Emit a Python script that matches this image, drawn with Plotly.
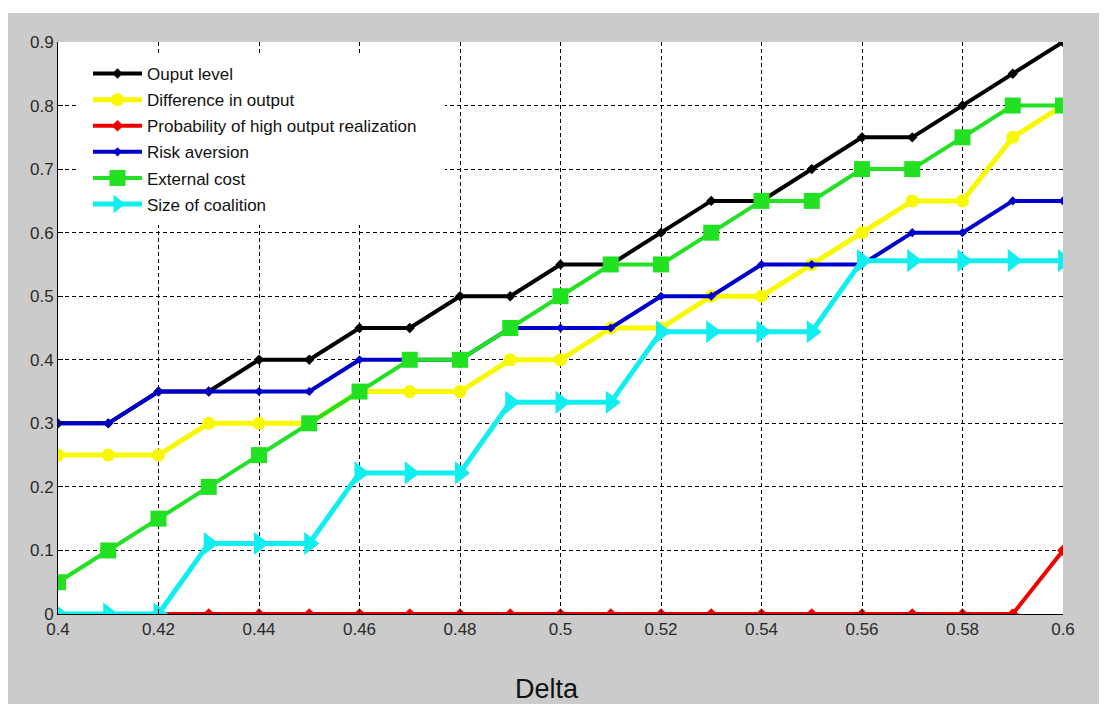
import plotly.graph_objects as go

delta = [0.40, 0.41, 0.42, 0.43, 0.44, 0.45, 0.46, 0.47, 0.48, 0.49, 0.50,
         0.51, 0.52, 0.53, 0.54, 0.55, 0.56, 0.57, 0.58, 0.59, 0.60]

output_level = [0.30, 0.30, 0.35, 0.35, 0.40, 0.40, 0.45, 0.45, 0.50, 0.50, 0.55,
                0.55, 0.60, 0.65, 0.65, 0.70, 0.75, 0.75, 0.80, 0.85, 0.90]
difference_in_output = [0.25, 0.25, 0.25, 0.30, 0.30, 0.30, 0.35, 0.35, 0.35, 0.40, 0.40,
                        0.45, 0.45, 0.50, 0.50, 0.55, 0.60, 0.65, 0.65, 0.75, 0.80]
prob_high_output = [0, 0, 0, 0, 0, 0, 0, 0, 0, 0, 0,
                    0, 0, 0, 0, 0, 0, 0, 0, 0, 0.10]
risk_aversion = [0.30, 0.30, 0.35, 0.35, 0.35, 0.35, 0.40, 0.40, 0.40, 0.45, 0.45,
                 0.45, 0.50, 0.50, 0.55, 0.55, 0.55, 0.60, 0.60, 0.65, 0.65]
external_cost = [0.05, 0.10, 0.15, 0.20, 0.25, 0.30, 0.35, 0.40, 0.40, 0.45, 0.50,
                 0.55, 0.55, 0.60, 0.65, 0.65, 0.70, 0.70, 0.75, 0.80, 0.80]
size_of_coalition = [0, 0, 0, 0.111, 0.111, 0.111, 0.222, 0.222, 0.222, 0.333, 0.333,
                     0.333, 0.444, 0.444, 0.444, 0.444, 0.556, 0.556, 0.556, 0.556, 0.556]

series_names = ["Ouput level", "Difference in output", "Probability of high output realization",
                "Risk aversion", "External cost", "Size of coalition"]
x_ticks = [0.40, 0.42, 0.44, 0.46, 0.48, 0.50, 0.52, 0.54, 0.56, 0.58, 0.60]
x_tick_labels = ["0.4", "0.42", "0.44", "0.46", "0.48", "0.5", "0.52", "0.54", "0.56", "0.58", "0.6"]
y_ticks = [0, 0.1, 0.2, 0.3, 0.4, 0.5, 0.6, 0.7, 0.8, 0.9]
y_tick_labels = ["0", "0.1", "0.2", "0.3", "0.4", "0.5", "0.6", "0.7", "0.8", "0.9"]

series = [output_level, difference_in_output, prob_high_output,
          risk_aversion, external_cost, size_of_coalition]
styles = [
    dict(color="#000000", symbol="diamond", size=8, width=4),
    dict(color="#f8f800", symbol="circle", size=13, width=5),
    dict(color="#ee0000", symbol="diamond", size=9, width=4),
    dict(color="#0000cc", symbol="diamond", size=7, width=4),
    dict(color="#22e022", symbol="square", size=16, width=4),
    dict(color="#10eef0", symbol="triangle-right", size=20, width=5),
]

fig = go.Figure()
for i, (name, ys, st) in enumerate(zip(series_names, series, styles)):
    fig.add_trace(go.Scatter(
        x=delta, y=ys, name=name, mode="lines+markers",
        legendgroup="g%d" % i,
        line=dict(color=st["color"], width=st["width"]),
        marker=dict(color=st["color"], symbol=st["symbol"], size=st["size"], line=dict(width=0)),
    ))

# figure is placed at an 8px page offset by the browser's body margin
W, H = 1099, 696
L, R, T, B = 50, 44, 34, 90
pw, ph = W - L - R, H - T - B

def px_x(p):
    return (p - L) / pw

def px_y(p):
    return (H - B - p) / ph

fig.update_layout(
    width=W, height=H,
    margin=dict(l=L, r=R, t=T, b=B, autoexpand=False),
    paper_bgcolor="#cbcbcb",
    plot_bgcolor="#ffffff",
    font=dict(family="Liberation Sans, Arial, sans-serif", size=17, color="#2a2a2a"),
    showlegend=True,
    legend=dict(
        x=px_x(80), y=px_y(48), xanchor="left", yanchor="top",
        bgcolor="#ffffff", borderwidth=0,
        font=dict(size=17, color="#111111"),
        tracegroupgap=1, itemwidth=49,
    ),
    xaxis=dict(
        range=[0.4, 0.6], tickvals=x_ticks, ticktext=x_tick_labels,
        showgrid=True, gridcolor="#000000", gridwidth=1, griddash="4px,3px",
        zeroline=False, showline=True, linecolor="#000000", linewidth=1,
        ticks="inside", ticklen=5, tickcolor="#000000",
        tickfont=dict(size=17, color="#2a2a2a"),
    ),
    yaxis=dict(
        range=[0, 0.9], tickvals=y_ticks, ticktext=y_tick_labels,
        showgrid=True, gridcolor="#000000", gridwidth=1, griddash="4px,3px",
        zeroline=False, showline=True, linecolor="#000000", linewidth=1,
        ticks="inside", ticklen=5, tickcolor="#000000",
        tickfont=dict(size=17, color="#2a2a2a"),
    ),
    shapes=[
        dict(type="rect", xref="paper", yref="paper", layer="below",
             x0=px_x(-5), x1=px_x(W + 5), y0=px_y(5), y1=px_y(-5),
             fillcolor="#ffffff", line=dict(width=0)),
        # white legend box hiding the grid behind it (no data lies in this area)
        dict(type="rect", xref="paper", yref="paper", layer="above",
             x0=px_x(69), x1=px_x(437), y0=px_y(217), y1=px_y(45),
             fillcolor="#ffffff", line=dict(width=0)),
    ],
    annotations=[
        dict(text="Delta", xref="paper", yref="paper", x=px_x(539), y=px_y(681),
             xanchor="center", yanchor="middle", showarrow=False,
             font=dict(size=27, color="#111111")),
    ],
)

fig.write_html("out.html")
